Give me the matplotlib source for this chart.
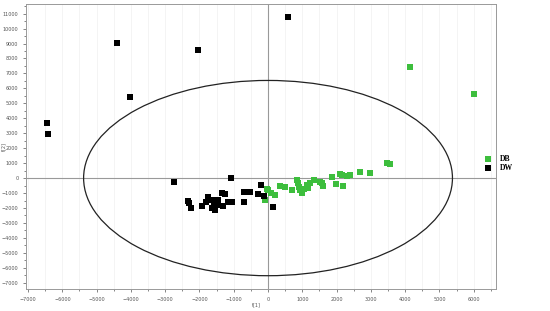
import matplotlib
matplotlib.use("Agg")
import matplotlib.pyplot as plt
from matplotlib.patches import Ellipse
import numpy as np

# DB (green) scores
db_t1 = [-90, 10, 90, -40, 200, 350, 500, 690, 840, 870, 890, 930, 980, 1060, 1130,
         1170, 1220, 1350, 1520, 1560, 1610, 1860, 1980, 2100, 2170, 2290, 2390,
         2200, 2680, 2970, 3480, 3550, 4140, 6010]
db_t2 = [-1470, -800, -1030, -740, -1140, -540, -580, -800, -130, -360, -580, -800,
         -1030, -760, -470, -690, -360, -130, -250, -360, -540, 90, -400, 270, 200,
         160, 200, -510, 420, 360, 1000, 950, 7400, 5600]

# DW (black) scores
dw_t1 = [-6450, -6430, -4410, -4020, -2030, 580, -2730, -1090, -2340, -2320, -2250,
         -1920, -1740, -1640, -1590, -1640, -1550, -1500, -1350, -1250, -1300, -1160,
         -1060, -710, -700, -520, -300, -200, -110, -280, 150, -1800, -1450]
dw_t2 = [3700, 2950, 9030, 5440, 8560, 10770, -290, 0, -1520, -1700, -1990,
         -1870, -1290, -1470, -1700, -2030, -2140, -1800, -980, -1070, -1870, -1630,
         -1630, -920, -1630, -940, -1090, -490, -1180, -1090, -1920, -1600, -1450]

x_ticks = list(range(-7000, 7000, 1000))
y_ticks = list(range(-7000, 12000, 1000))
ellipse_a, ellipse_b = 5380, 6530

fig = plt.figure(figsize=(5.5, 3.11), dpi=100)
ax = fig.add_axes([0.0473, 0.0707, 0.8545, 0.9163])
ax.set_xlim(-7060, 6650)
ax.set_ylim(-7420, 11640)

for xv in range(-7000, 6600, 500):
    ax.axvline(xv, color="#f0f0f0", lw=0.5, zorder=0)

ax.axhline(0, color="#999999", lw=0.8, zorder=1)
ax.axvline(0, color="#999999", lw=0.8, zorder=1)

ax.add_patch(Ellipse((0, 0), 2 * ellipse_a, 2 * ellipse_b, fill=False,
                     edgecolor="#222222", lw=0.9, zorder=2))

ax.scatter(db_t1, db_t2, marker="s", s=17, color="#3dbe3d", linewidths=0, zorder=3, label="DB")
ax.scatter(dw_t1, dw_t2, marker="s", s=17, color="black", linewidths=0, zorder=3, label="DW")

ax.set_xticks(x_ticks)
ax.set_yticks(y_ticks)
ax.set_xticks(range(-6500, 6600, 1000), minor=True)
ax.set_yticks(range(-6500, 11600, 1000), minor=True)
ax.tick_params(which="both", labelsize=3.5, colors="#555555", length=2, width=0.5)
ax.tick_params(which="minor", length=1.2)

for sp in ax.spines.values():
    sp.set_color("#999999")
    sp.set_linewidth(0.7)

ax.set_xlabel("t[1]", fontsize=3.5, color="#555555")
ax.xaxis.set_label_coords(0.49, -0.045)
ax.set_ylabel("t[2]", fontsize=3.5, color="#555555")
ax.yaxis.set_label_coords(-0.042, 0.5)

leg = fig.legend(loc="upper left", bbox_to_anchor=(0.86, 0.525), frameon=False,
                 prop={"family": "Liberation Serif", "weight": "bold", "size": 5.5},
                 handletextpad=0.6, labelspacing=0.2, markerscale=0.9)

fig.savefig("out.png", dpi=100)
